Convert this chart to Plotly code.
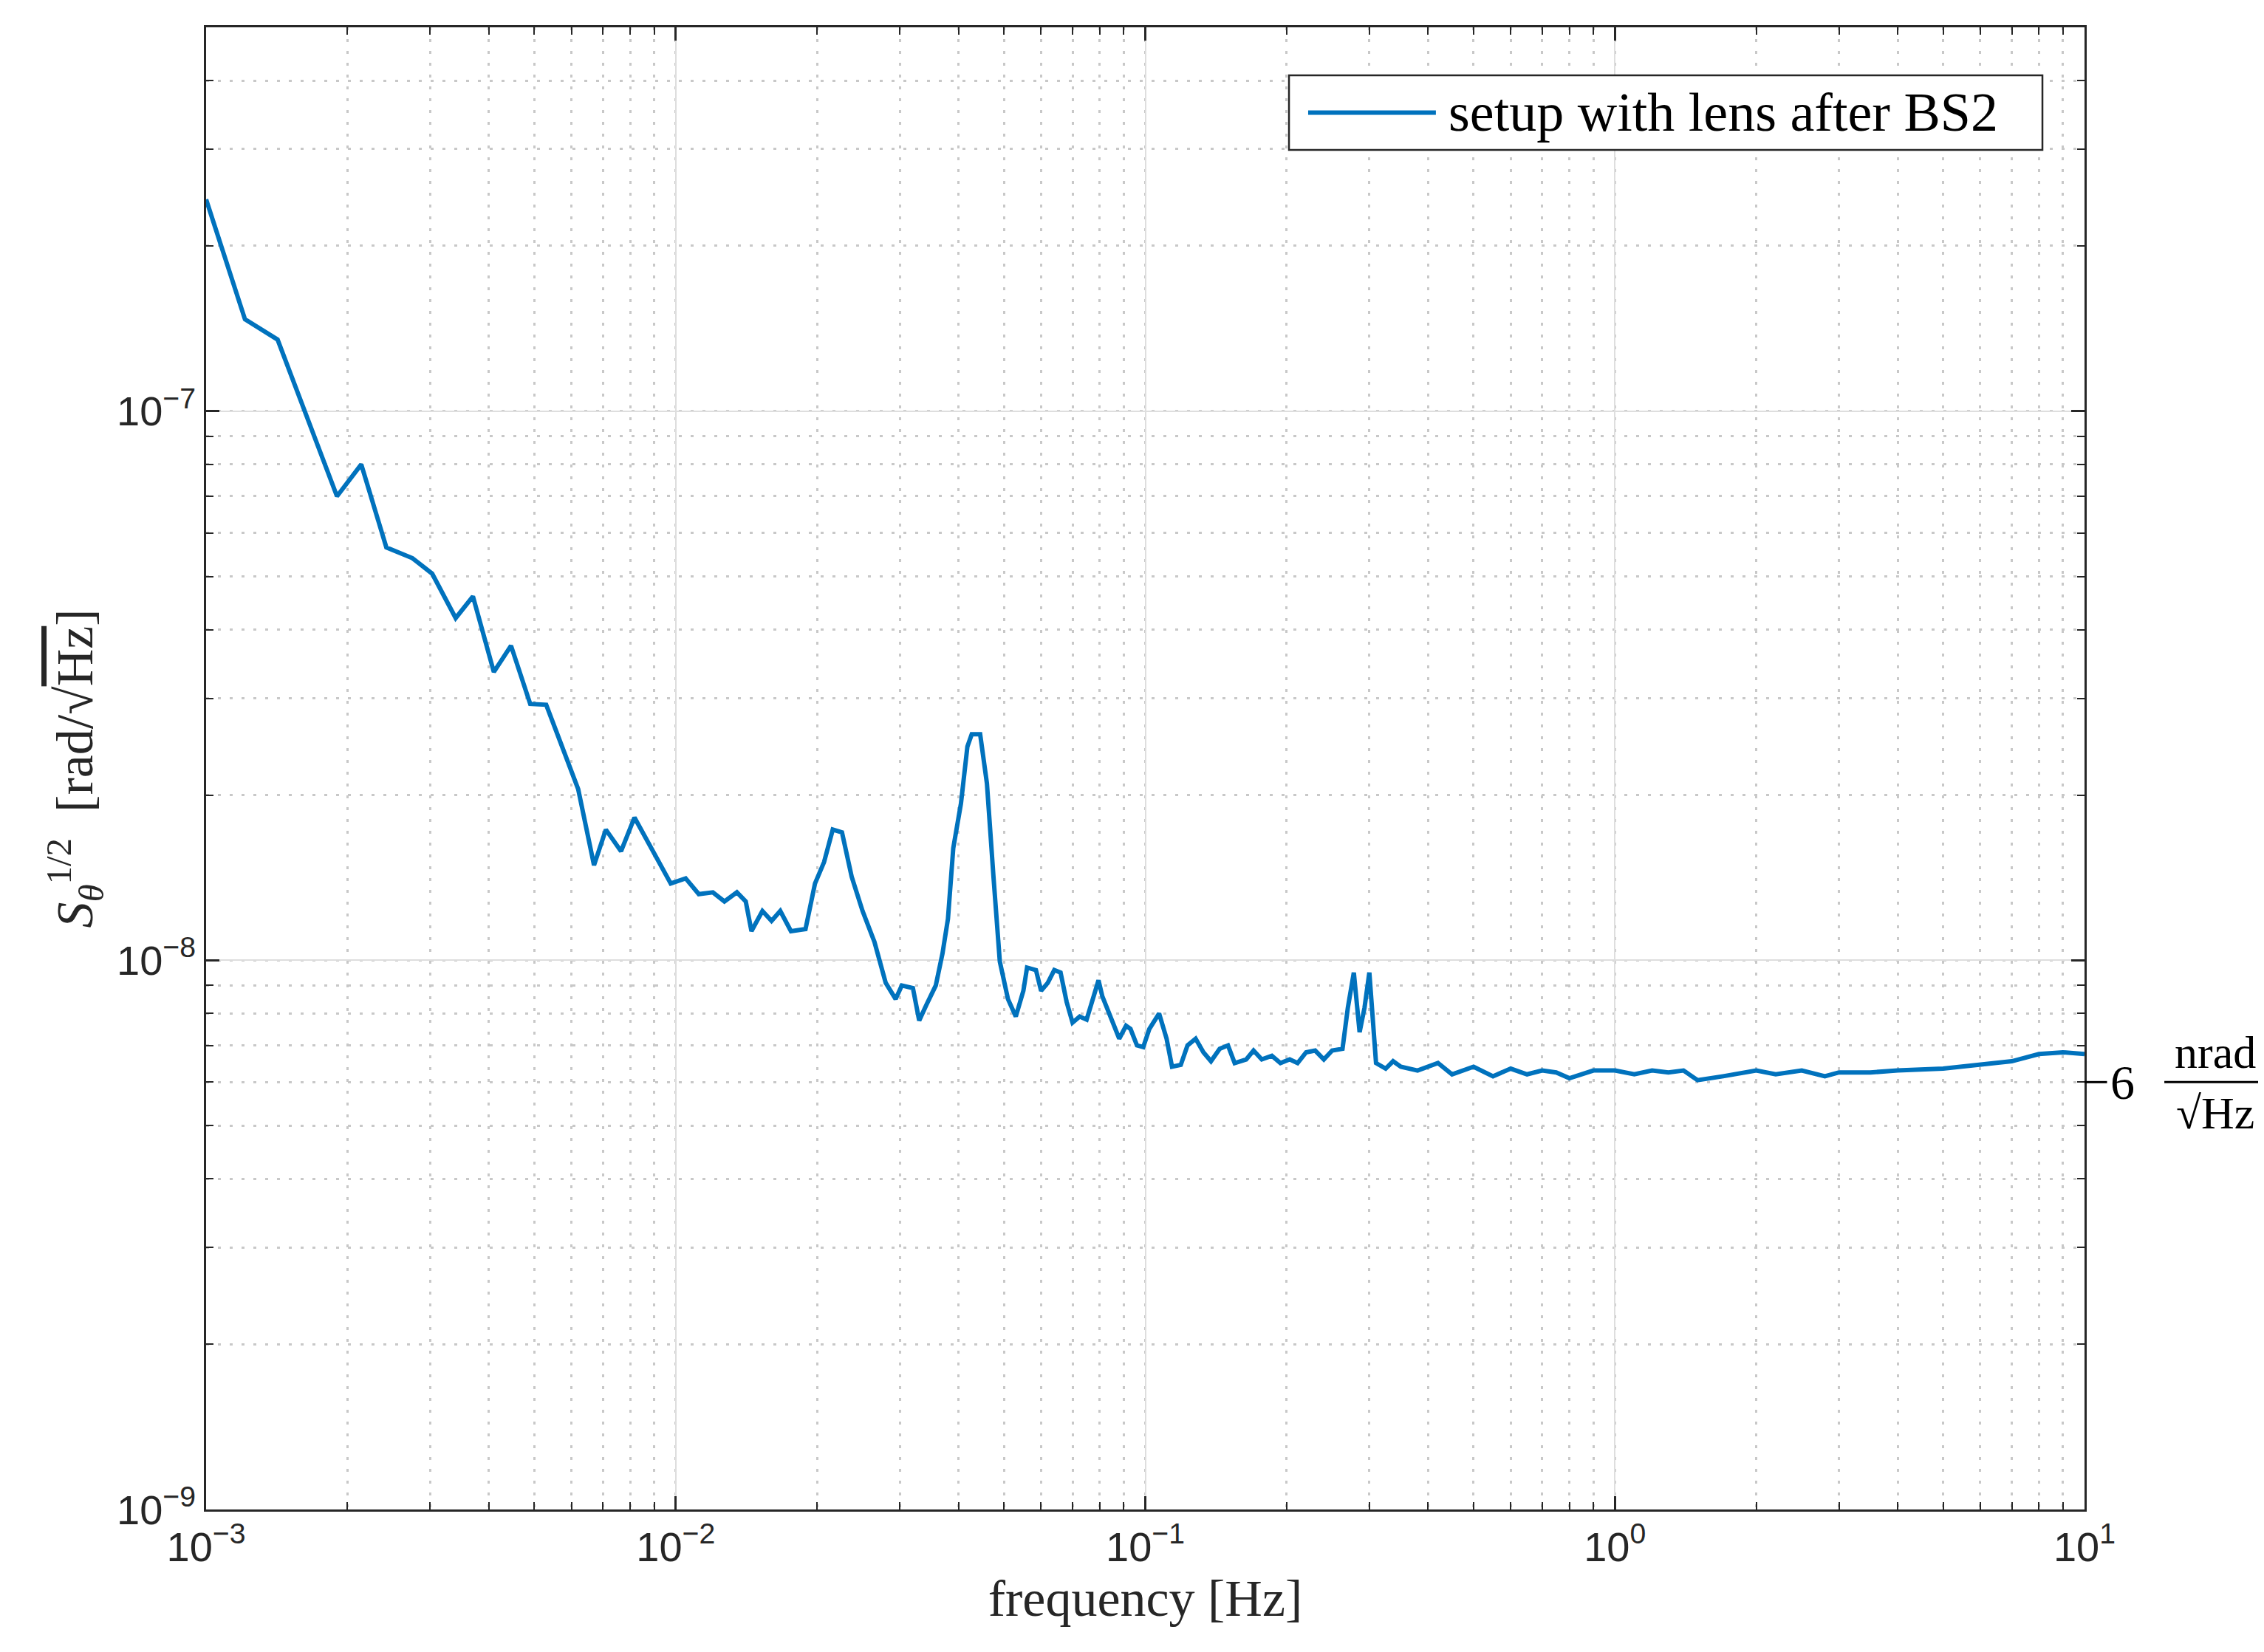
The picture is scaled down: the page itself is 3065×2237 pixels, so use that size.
import plotly.graph_objects as go

freq = [1.0e-3,1.21e-3,1.42e-3,1.61e-3,1.9e-3,2.14e-3,2.42e-3,2.75e-3,3.03e-3,3.4e-3,3.7e-3,4.1e-3,4.46e-3,4.9e-3,5.3e-3,6.2e-3,6.7e-3,7.1e-3,7.65e-3,8.17e-3,9.0e-3,9.76e-3,
        1.05e-2,1.12e-2,1.2e-2,1.27e-2,1.35e-2,1.41e-2,1.45e-2,1.53e-2,1.6e-2,1.67e-2,1.76e-2,1.89e-2,1.98e-2,2.07e-2,2.16e-2,2.26e-2,2.37e-2,2.5e-2,2.65e-2,2.8e-2,2.94e-2,3.03e-2,3.2e-2,3.3e-2,3.42e-2,3.58e-2,3.7e-2,3.8e-2,3.9e-2,4.05e-2,4.18e-2,4.27e-2,4.45e-2,4.6e-2,4.75e-2,4.9e-2,5.1e-2,5.3e-2,5.5e-2,5.6e-2,5.85e-2,6.0e-2,6.2e-2,6.4e-2,6.6e-2,6.8e-2,7.0e-2,7.25e-2,7.5e-2,7.7e-2,7.95e-2,8.1e-2,8.5e-2,8.8e-2,9.1e-2,9.3e-2,9.6e-2,9.9e-2,
        0.102,0.107,0.111,0.114,0.119,0.123,0.128,0.133,0.138,0.144,0.150,0.155,0.164,0.170,0.177,0.186,0.194,0.203,0.211,0.220,0.230,0.240,0.250,0.263,0.270,0.278,0.286,0.293,0.300,0.310,0.325,0.337,0.350,
        0.38,0.42,0.45,0.5,0.55,0.6,0.65,0.7,0.75,0.8,0.9,1.0,1.1,1.2,1.3,1.4,1.5,1.7,2.0,2.2,2.5,2.8,3.0,3.5,4.0,5.0,6.0,7.0,8.0,9.0,10.0]
asd = [2.43e-7,1.47e-7,1.35e-7,1.02e-7,7.0e-8,8.0e-8,5.65e-8,5.4e-8,5.06e-8,4.2e-8,4.6e-8,3.35e-8,3.74e-8,2.93e-8,2.92e-8,2.05e-8,1.49e-8,1.73e-8,1.58e-8,1.82e-8,1.57e-8,1.38e-8,
       1.41e-8,1.32e-8,1.33e-8,1.28e-8,1.33e-8,1.28e-8,1.13e-8,1.23e-8,1.18e-8,1.23e-8,1.13e-8,1.14e-8,1.38e-8,1.51e-8,1.73e-8,1.71e-8,1.42e-8,1.23e-8,1.08e-8,9.1e-9,8.5e-9,9.0e-9,8.9e-9,7.77e-9,8.3e-9,9.0e-9,1.03e-8,1.19e-8,1.6e-8,1.93e-8,2.45e-8,2.58e-8,2.58e-8,2.1e-8,1.42e-8,9.95e-9,8.5e-9,7.9e-9,8.8e-9,9.7e-9,9.6e-9,8.8e-9,9.1e-9,9.6e-9,9.5e-9,8.4e-9,7.7e-9,7.9e-9,7.8e-9,8.4e-9,9.2e-9,8.6e-9,7.7e-9,7.2e-9,7.6e-9,7.5e-9,7.0e-9,6.95e-9,
       7.5e-9,8.0e-9,7.2e-9,6.4e-9,6.45e-9,7.0e-9,7.2e-9,6.8e-9,6.55e-9,6.9e-9,7.0e-9,6.5e-9,6.6e-9,6.85e-9,6.6e-9,6.7e-9,6.5e-9,6.6e-9,6.5e-9,6.8e-9,6.85e-9,6.6e-9,6.85e-9,6.9e-9,8.2e-9,9.5e-9,7.4e-9,8.2e-9,9.5e-9,6.5e-9,6.35e-9,6.55e-9,6.4e-9,
       6.3e-9,6.5e-9,6.2e-9,6.4e-9,6.15e-9,6.35e-9,6.2e-9,6.3e-9,6.25e-9,6.1e-9,6.3e-9,6.3e-9,6.2e-9,6.3e-9,6.25e-9,6.3e-9,6.05e-9,6.15e-9,6.3e-9,6.2e-9,6.3e-9,6.15e-9,6.25e-9,6.25e-9,6.3e-9,6.35e-9,6.45e-9,6.55e-9,6.75e-9,6.8e-9,6.75e-9]

series_name = "setup with lens after BS2"
x_tickvals = [1e-3, 1e-2, 1e-1, 1, 10]
x_ticktext = ["10<sup>−3</sup>", "10<sup>−2</sup>", "10<sup>−1</sup>", "10<sup>0</sup>", "10<sup>1</sup>"]
y_tickvals = [1e-9, 1e-8, 1e-7]
y_ticktext = ["10<sup>−9</sup>", "10<sup>−8</sup>", "10<sup>−7</sup>"]

W, H = 3065, 2237
ML, MR, MT, MB = 271, 251, 29, 201
serif = "Liberation Serif"
sans = "Liberation Sans"
COL = "#0072BD"

fig = go.Figure(go.Scatter(x=freq, y=asd, mode="lines", name=series_name,
                           line=dict(color=COL, width=6), showlegend=False))

axcommon = dict(type="log", showline=True, linecolor="#262626",
                linewidth=2.5, mirror="ticks", ticks="inside", ticklen=18, tickwidth=2.5, tickcolor="#262626",
                showgrid=True, gridcolor="#dedede", gridwidth=2, zeroline=False,
                tickfont=dict(family=sans, size=56, color="#262626"),
                minor=dict(dtick="D1", ticks="inside", ticklen=10, tickwidth=2, tickcolor="#262626",
                           showgrid=True, gridcolor="#c8c8c8", gridwidth=2.5, griddash="4px,12px"))

fig.update_xaxes(**axcommon, range=[-3, 1], tickvals=x_tickvals, ticktext=x_ticktext,
                 title=dict(text="frequency [Hz]", font=dict(family=serif, size=70, color="#262626"), standoff=0))
fig.update_yaxes(**axcommon, range=[-9, -6.301], tickvals=y_tickvals, ticktext=y_ticktext,
                 title=dict(text="<i>S</i><sub><i>θ</i></sub><sup>1/2</sup>  [rad/√<span style='text-decoration:overline'>Hz</span>]",
                            font=dict(family=serif, size=70, color="#262626"), standoff=10))

fig.update_layout(width=W, height=H, margin=dict(l=ML, r=MR, t=MT, b=MB),
                  paper_bgcolor="white", plot_bgcolor="white", showlegend=False)

# legend drawn manually (long sample line like the reference)
fig.add_shape(type="rect", xref="paper", yref="paper", x0=0.5765, x1=0.9776, y0=0.9173, y1=0.9676,
              line=dict(color="#262626", width=2.5), fillcolor="white")
fig.add_shape(type="line", xref="paper", yref="paper", x0=0.5867, x1=0.6547, y0=0.9425, y1=0.9425,
              line=dict(color=COL, width=6))
fig.add_annotation(xref="paper", yref="paper", x=0.6606, y=0.9425, text=series_name, showarrow=False,
                   xanchor="left", yanchor="middle", font=dict(family=serif, size=74, color="black"))

# right-side annotation at 6 nrad/sqrt(Hz)
yp = (-8.2218 + 9) / 2.699
fig.add_shape(type="line", xref="paper", yref="paper", x0=1.0, x1=1.012, y0=yp, y1=yp,
              line=dict(color="black", width=3))
fig.add_annotation(xref="paper", yref="paper", x=1.013, y=yp, text="6", showarrow=False,
                   xanchor="left", yanchor="middle", font=dict(family=serif, size=66, color="black"))
fig.add_annotation(xref="paper", yref="paper", x=1.0696, y=yp + 0.002, text="nrad", showarrow=False,
                   xanchor="center", yanchor="bottom", font=dict(family=serif, size=62, color="black"))
fig.add_shape(type="line", xref="paper", yref="paper", x0=1.0425, x1=1.097, y0=yp, y1=yp,
              line=dict(color="black", width=3))
fig.add_annotation(xref="paper", yref="paper", x=1.0696, y=yp - 0.003, text="√Hz", showarrow=False,
                   xanchor="center", yanchor="top", font=dict(family=serif, size=62, color="black"))

fig.write_html("out.html")
